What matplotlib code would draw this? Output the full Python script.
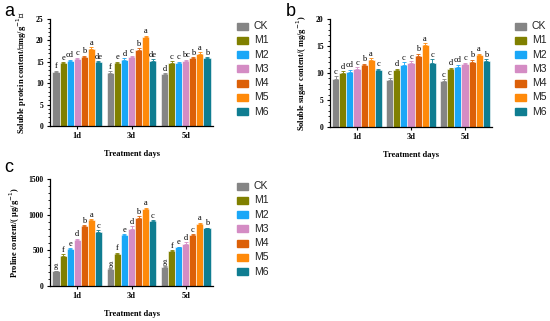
import numpy as np
import matplotlib.pyplot as plt
from matplotlib.ticker import MultipleLocator

days = ['1d', '3d', '5d']
treatments = ['CK', 'M1', 'M2', 'M3', 'M4', 'M5', 'M6']
colors = ['#858585', '#808000', '#1aa7f7', '#d48cc4', '#dc6008', '#ff8a0a', '#0f7d91']

# soluble protein (mg/g), rows = treatments, cols = days
protein = [[12.6, 12.4, 12.1],
           [14.7, 14.8, 14.8],
           [15.2, 15.5, 14.8],
           [15.6, 16.1, 15.3],
           [16.2, 17.8, 15.8],
           [18.0, 20.7, 16.8],
           [15.0, 15.3, 15.8]]
protein_err = [[0.3, 0.4, 0.3], [0.2, 0.2, 0.3], [0.3, 0.4, 0.2], [0.4, 0.3, 0.2],
               [0.2, 0.4, 0.3], [0.4, 0.4, 0.4], [0.2, 0.3, 0.3]]
protein_sig = [['f', 'f', 'd'], ['e', 'e', 'c'], ['cd', 'd', 'c'], ['c', 'c', 'bc'],
               ['b', 'b', 'b'], ['a', 'a', 'a'], ['de', 'de', 'b']]

# soluble sugar (mg/g)
sugar = [[8.9, 8.7, 8.6],
         [10.0, 10.6, 10.7],
         [10.2, 11.5, 11.2],
         [10.7, 11.9, 11.6],
         [11.4, 13.2, 12.1],
         [12.4, 15.1, 13.4],
         [10.6, 11.8, 12.3]]
sugar_err = [[0.5, 0.4, 0.2], [0.3, 0.2, 0.3], [0.4, 0.5, 0.3], [0.4, 0.3, 0.3],
             [0.3, 0.4, 0.3], [0.3, 0.4, 0.2], [0.2, 0.7, 0.2]]
sugar_sig = [['c', 'c', 'c'], ['d', 'd', 'd'], ['cd', 'c', 'cd'], ['c', 'c', 'c'],
             ['b', 'b', 'b'], ['a', 'a', 'a'], ['c', 'c', 'b']]

# proline (ug/g)
proline = [[205, 240, 268],
           [425, 450, 490],
           [520, 720, 540],
           [640, 800, 587],
           [835, 960, 712],
           [920, 1085, 875],
           [755, 915, 808]]
proline_err = [[10, 12, 12], [18, 15, 14], [12, 10, 10], [22, 35, 25],
               [18, 15, 10], [20, 15, 12], [25, 12, 10]]
proline_sig = [['g', 'g', 'g'], ['f', 'f', 'f'], ['e', 'e', 'e'], ['d', 'd', 'd'],
               ['b', 'b', 'c'], ['a', 'a', 'a'], ['c', 'c', 'b']]

W, H = 550, 321
serif = 'Liberation Serif'


def px_axes(fig, x0, y0, x1, y1):
    return fig.add_axes([x0 / W, 1 - y1 / H, (x1 - x0) / W, (y1 - y0) / H])


def draw_panel(ax, vals, errs, sigs, ymax, major, minor, ylabel, pad):
    x = np.arange(len(days))
    bw = 0.13
    for i, t in enumerate(treatments):
        pos = x + (i - 3) * bw
        ax.bar(pos, vals[i], bw, color=colors[i], edgecolor='white', linewidth=0.4, zorder=2)
        ax.errorbar(pos, vals[i], yerr=[np.zeros(3), errs[i]], fmt='none',
                    ecolor=colors[i], elinewidth=0.6, capsize=1.2, capthick=0.6, zorder=3)
        for j in range(len(days)):
            ax.text(pos[j], vals[i][j] + errs[i][j] + pad, sigs[i][j], ha='center', va='bottom',
                    fontsize=6, family=serif)
    ax.set_xlim(-0.5, 2.5)
    ax.set_ylim(0, ymax)
    ax.set_xticks(x)
    ax.set_xticklabels(days, fontsize=6, family=serif, fontweight='bold')
    ax.yaxis.set_major_locator(MultipleLocator(major))
    ax.yaxis.set_minor_locator(MultipleLocator(minor))
    for lab in ax.get_yticklabels():
        lab.set_fontsize(5.5)
        lab.set_family(serif)
        lab.set_fontweight('bold')
    ax.tick_params(axis='both', length=2.5, width=0.8, pad=2)
    ax.tick_params(axis='y', which='minor', length=1.5, width=0.6)
    ax.spines['top'].set_visible(False)
    ax.spines['right'].set_visible(False)
    ax.spines['left'].set_linewidth(0.9)
    ax.spines['bottom'].set_linewidth(0.9)
    ax.set_xlabel('Treatment days', fontsize=6, family=serif, fontweight='bold', labelpad=7)
    ax.set_ylabel(ylabel, fontsize=6, family=serif, fontweight='bold', labelpad=5)


def draw_legend(fig, x0, y0):
    for i, t in enumerate(treatments):
        y = y0 + i * 14.3
        fig.patches.append(plt.Rectangle((x0 / W, 1 - (y + 3.5) / H), 11 / W, 7 / H,
                                         color=colors[i], transform=fig.transFigure))
        fig.text((x0 + 17) / W, 1 - y / H, t, fontsize=7.5, family='Liberation Sans',
                 va='center', ha='left', color='#222222')


fig = plt.figure(figsize=(W / 100, H / 100), dpi=100)

ax_a = px_axes(fig, 50, 19, 213, 126)
draw_panel(ax_a, protein, protein_err, protein_sig, 25, 5, 1,
           'Soluble protein content/（mg/g$^{-1}$）', 0.1)
ax_b = px_axes(fig, 330, 19, 492, 127)
draw_panel(ax_b, sugar, sugar_err, sugar_sig, 20, 5, 1,
           'Soluble sugar content/( mg/g$^{-1}$)', 0.1)
ax_c = px_axes(fig, 50, 179, 213, 286)
draw_panel(ax_c, proline, proline_err, proline_sig, 1500, 500, 100,
           'Proline content/( μg/g$^{-1}$)', 5)

draw_legend(fig, 237, 26)
draw_legend(fig, 515, 26)
draw_legend(fig, 237, 186)

fig.text(4 / W, 1 - 12 / H, 'a', fontsize=13, family='Liberation Sans', va='center')
fig.text(286 / W, 1 - 12 / H, 'b', fontsize=13, family='Liberation Sans', va='center')
fig.text(4 / W, 1 - 168 / H, 'c', fontsize=13, family='Liberation Sans', va='center')

fig.savefig('out.png', dpi=100)
